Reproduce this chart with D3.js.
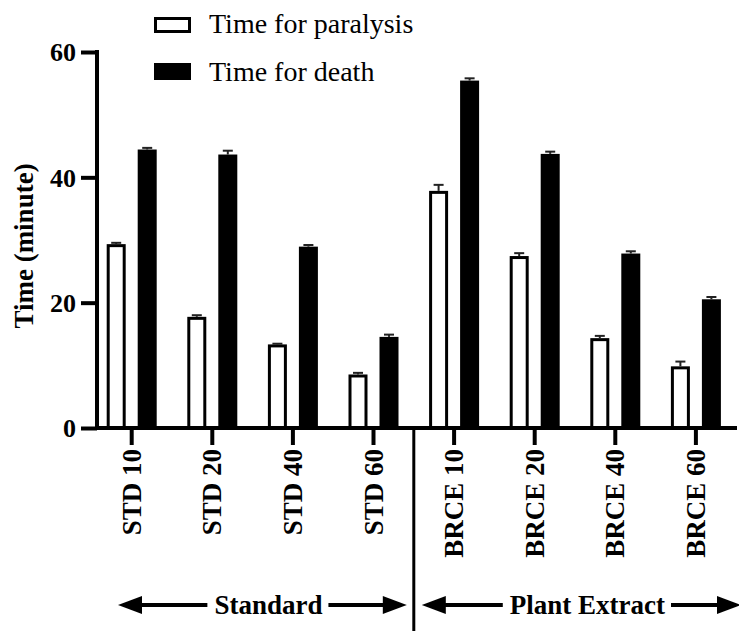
<!DOCTYPE html>
<html><head><meta charset="utf-8"><script src="https://cdn.jsdelivr.net/npm/d3@7"></script></head>
<body style="margin:0">
<script>
// data
var doses = ["STD 10", "STD 20", "STD 40", "STD 60", "BRCE 10", "BRCE 20", "BRCE 40", "BRCE 60"];
var seriesNames = ["Time for paralysis", "Time for death"];
var paralysis = [29.1, 17.5, 13.1, 8.3, 37.6, 27.2, 14.1, 9.6];
var paralysisErr = [0.45, 0.5, 0.35, 0.5, 1.2, 0.7, 0.6, 1.0];
var death = [44.2, 43.4, 28.7, 14.3, 55.2, 43.5, 27.6, 20.3];
var deathErr = [0.5, 0.85, 0.5, 0.6, 0.6, 0.6, 0.6, 0.6];
var yTicks = [0, 20, 40, 60];
var groupNames = ["Standard", "Plant Extract"];
var groupSize = 4;

var W = 739, H = 631;
var axisX = 97, axisY = 428, topY = 52;

var svg = d3.select("body").append("svg")
    .attr("width", W)
    .attr("height", H);

var x = d3.scaleBand()
    .domain(doses)
    .range([91.4, 736.2])
    .padding(0);

var xSub = d3.scaleBand()
    .domain(seriesNames)
    .range([-23.5, 23.5])
    .paddingInner(0.484);

var y = d3.scaleLinear()
    .domain([0, 60])
    .range([axisY, topY]);

var rows = [];
doses.forEach(function(d, i) {
    rows.push({ cat: d, s: seriesNames[0], v: paralysis[i], e: paralysisErr[i] });
    rows.push({ cat: d, s: seriesNames[1], v: death[i], e: deathErr[i] });
});

function cx(d) { return x(d.cat) + x.bandwidth() / 2 + xSub(d.s) + xSub.bandwidth() / 2; }

// bars
svg.selectAll(".bar")
    .data(rows)
    .enter().append("rect")
    .attr("class", "bar")
    .attr("x", function(d) { return x(d.cat) + x.bandwidth() / 2 + xSub(d.s); })
    .attr("width", xSub.bandwidth())
    .attr("y", function(d) { return y(d.v); })
    .attr("height", function(d) { return y(0) - y(d.v); })
    .attr("fill", function(d) { return d.s === seriesNames[0] ? "#fff" : "#000"; })
    .attr("stroke", "#000")
    .attr("stroke-width", 3);

// error bars (upper only)
var err = svg.selectAll(".err")
    .data(rows)
    .enter().append("g")
    .attr("class", "err")
    .attr("stroke", "#222")
    .attr("stroke-width", 2);

err.append("line")
    .attr("x1", cx).attr("x2", cx)
    .attr("y1", function(d) { return y(d.v) - 1.5; })
    .attr("y2", function(d) { return y(d.v + d.e); });

err.append("line")
    .attr("x1", function(d) { return cx(d) - 5; })
    .attr("x2", function(d) { return cx(d) + 5; })
    .attr("y1", function(d) { return y(d.v + d.e); })
    .attr("y2", function(d) { return y(d.v + d.e); });

// y axis
var yAxis = d3.axisLeft(y)
    .tickValues(yTicks)
    .tickSize(16)
    .tickSizeOuter(0)
    .tickPadding(5);

var yG = svg.append("g")
    .attr("transform", "translate(" + axisX + ",0)")
    .call(yAxis)
    .attr("font-family", "Liberation Serif");
yG.select(".domain").remove();
yG.selectAll(".tick line").attr("stroke", "#000").attr("stroke-width", 4);
yG.selectAll(".tick text")
    .attr("font-family", "Liberation Serif")
    .attr("font-size", 26)
    .attr("font-weight", "bold")
    .attr("fill", "#000")
    .attr("dy", "0.34em");

svg.append("line")
    .attr("x1", axisX).attr("x2", axisX)
    .attr("y1", y(60) - 2).attr("y2", axisY + 2)
    .attr("stroke", "#000").attr("stroke-width", 4);

// x axis
var xAxis = d3.axisBottom(x)
    .tickSize(17)
    .tickSizeOuter(0);

var xG = svg.append("g")
    .attr("transform", "translate(0," + axisY + ")")
    .call(xAxis)
    .attr("font-family", "Liberation Serif");
xG.select(".domain").remove();
xG.selectAll(".tick line").attr("stroke", "#000").attr("stroke-width", 4);
xG.selectAll(".tick text")
    .attr("font-family", "Liberation Serif")
    .attr("font-size", 27)
    .attr("font-weight", "bold")
    .attr("fill", "#000")
    .attr("text-anchor", "end")
    .attr("y", 0)
    .attr("dy", "0.34em")
    .attr("transform", "translate(0,21) rotate(-90)");

svg.append("line")
    .attr("x1", axisX - 2).attr("x2", 737)
    .attr("y1", axisY).attr("y2", axisY)
    .attr("stroke", "#000").attr("stroke-width", 4);

// divider between the two groups
var sepX = x(doses[groupSize]);
svg.append("line")
    .attr("x1", sepX).attr("x2", sepX)
    .attr("y1", axisY).attr("y2", H)
    .attr("stroke", "#000").attr("stroke-width", 3);

// y title
svg.append("text")
    .attr("transform", "translate(33,246) rotate(-90)")
    .attr("text-anchor", "middle")
    .attr("font-family", "Liberation Serif")
    .attr("font-size", 27)
    .attr("font-weight", "bold")
    .text("Time (minute)");

// legend
var legend = svg.append("g");
legend.append("rect")
    .attr("x", 155.5).attr("y", 18.5).attr("width", 34).attr("height", 13)
    .attr("fill", "#fff").attr("stroke", "#000").attr("stroke-width", 3);
legend.append("rect")
    .attr("x", 154).attr("y", 63).attr("width", 37).attr("height", 17)
    .attr("fill", "#000");
legend.selectAll("text")
    .data(seriesNames)
    .enter().append("text")
    .attr("x", 209)
    .attr("y", function(d, i) { return 33 + i * 48; })
    .attr("font-family", "Liberation Serif")
    .attr("font-size", 28)
    .text(function(d) { return d; });

// group arrows under the axis
function arrowHead(g, tip, dir, cy) {
    g.append("path")
        .attr("d", "M" + tip + "," + cy +
            "L" + (tip - dir * 24) + "," + (cy - 9) +
            "L" + (tip - dir * 24) + "," + (cy + 9) + "Z")
        .attr("fill", "#000");
}

groupNames.forEach(function(name, i) {
    var left = i === 0 ? axisX + 21 : sepX + 8;
    var right = i === groupNames.length - 1 ? W + 2 : sepX - 7;
    var cyA = 605;
    var tx = (left + right) / 2 + 6;
    var g = svg.append("g");
    var t = g.append("text")
        .attr("x", tx)
        .attr("y", 614)
        .attr("text-anchor", "middle")
        .attr("font-family", "Liberation Serif")
        .attr("font-size", 27)
        .attr("font-weight", "bold")
        .text(name);
    var len = t.node().getComputedTextLength();
    g.append("line")
        .attr("x1", left + 20).attr("x2", tx - len / 2 - 7)
        .attr("y1", cyA).attr("y2", cyA)
        .attr("stroke", "#000").attr("stroke-width", 4);
    g.append("line")
        .attr("x1", tx + len / 2 + 6).attr("x2", right - 20)
        .attr("y1", cyA).attr("y2", cyA)
        .attr("stroke", "#000").attr("stroke-width", 4);
    arrowHead(g, left, -1, cyA);
    arrowHead(g, right, 1, cyA);
});
</script>
</body>
</html>
